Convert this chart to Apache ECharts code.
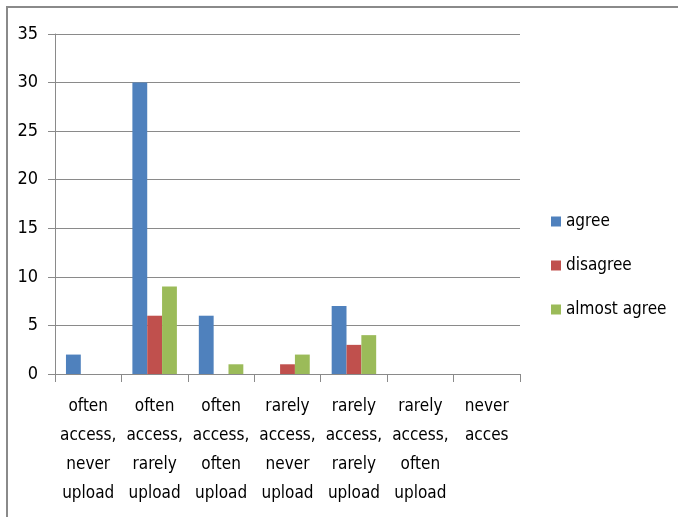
<!DOCTYPE html>
<html>
<head>
<meta charset="utf-8">
<script src="https://cdn.jsdelivr.net/npm/echarts@6/dist/echarts.min.js"></script>
<style>
  html, body { margin: 0; padding: 0; background: #fff; }
  #chart { width: 678px; height: 517px; }
</style>
</head>
<body>
<div id="chart"></div>
<script>
// Categories along the x axis
var categories = [
  'often access, never upload',
  'often access, rarely upload',
  'often access, often upload',
  'rarely access, never upload',
  'rarely access, rarely upload',
  'rarely access, often upload',
  'never acces'
];

// Response counts per category
var agree = [2, 30, 6, 0, 7, 0, 0];
var disagree = [0, 6, 0, 1, 3, 0, 0];
var almostAgree = [0, 9, 1, 2, 4, 0, 0];

var seriesNames = ['agree', 'disagree', 'almost agree'];
var seriesColors = ['#4F81BD', '#C0504D', '#9BBB59'];

var FONT = '"DejaVu Sans Condensed", "Liberation Sans", sans-serif';

var chart = echarts.init(document.getElementById('chart'), null, { renderer: 'canvas' });

function bar(name, data, color) {
  return {
    name: name,
    type: 'bar',
    data: data,
    barGap: '0%',
    barCategoryGap: '33%',
    itemStyle: { color: color }
  };
}

chart.setOption({
  animation: false,
  backgroundColor: '#fff',
  textStyle: { fontFamily: FONT },
  graphic: [{
    type: 'polyline',
    shape: { points: [[7, 517], [7, 7], [678, 7]] },
    style: { stroke: '#8a8a8a', lineWidth: 2, fill: null }
  }],
  grid: { left: 55, right: 158, top: 34, bottom: 143, containLabel: false },
  legend: {
    orient: 'vertical',
    left: 546,
    top: 208,
    itemWidth: 10,
    itemHeight: 10,
    itemGap: 27,
    icon: 'rect',
    data: seriesNames,
    textStyle: { fontFamily: FONT, fontSize: 17, color: '#000' }
  },
  xAxis: {
    type: 'category',
    data: categories,
    axisLine: { lineStyle: { color: '#8a8a8a', width: 1 } },
    axisTick: { show: true, length: 8, alignWithLabel: false, lineStyle: { color: '#8a8a8a' } },
    axisLabel: {
      interval: 0,
      margin: 18,
      color: '#000',
      fontFamily: FONT,
      fontSize: 17,
      lineHeight: 29,
      align: 'center',
      // one word per line
      formatter: function (v) { return v.split(' ').join('\n'); }
    }
  },
  yAxis: {
    type: 'value',
    min: 0,
    max: 35,
    interval: 5,
    axisLine: { show: true, lineStyle: { color: '#8a8a8a' } },
    axisTick: { show: true, length: 7, lineStyle: { color: '#8a8a8a' } },
    splitLine: { lineStyle: { color: '#8a8a8a', width: 1 } },
    axisLabel: { color: '#000', fontFamily: FONT, fontSize: 18, margin: 17 }
  },
  series: [
    bar(seriesNames[0], agree, seriesColors[0]),
    bar(seriesNames[1], disagree, seriesColors[1]),
    bar(seriesNames[2], almostAgree, seriesColors[2])
  ]
});
</script>
</body>
</html>
